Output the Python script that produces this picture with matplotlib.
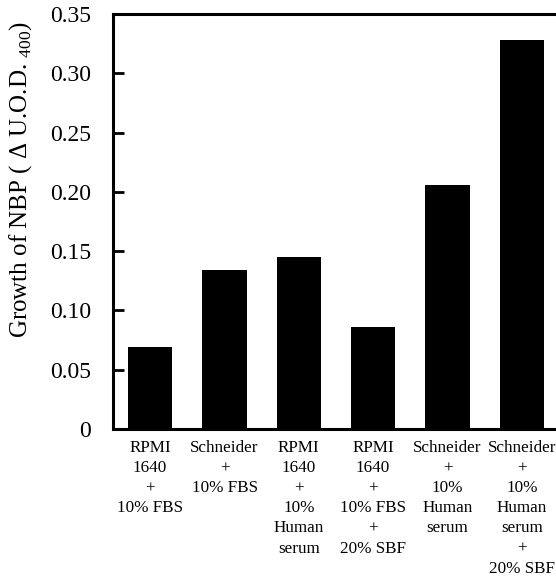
import matplotlib
matplotlib.use("Agg")
import matplotlib.pyplot as plt

plt.rcParams["font.family"] = ["Liberation Serif", "DejaVu Serif"]
plt.rcParams["mathtext.fontset"] = "custom"
plt.rcParams["mathtext.rm"] = "Liberation Serif"

media = [
    "RPMI\n1640\n+\n10% FBS",
    "Schneider\n+\n10% FBS",
    "RPMI\n1640\n+\n10%\nHuman\nserum",
    "RPMI\n1640\n+\n10% FBS\n+\n20% SBF",
    "Schneider\n+\n10%\nHuman\nserum",
    "Schneider\n+\n10%\nHuman\nserum\n+\n20% SBF",
]
growth = [0.069, 0.134, 0.145, 0.086, 0.206, 0.328]
yticks = [0, 0.05, 0.10, 0.15, 0.20, 0.25, 0.30, 0.35]
ytick_labels = ["0", "0.05", "0.10", "0.15", "0.20", "0.25", "0.30", "0.35"]

fig = plt.figure(figsize=(5.56, 5.8), dpi=100)
ax = fig.add_axes([113 / 556, 151 / 580, 446 / 556, 415 / 580])

xs = range(len(growth))
ax.bar(xs, growth, width=0.6, color="black")

ax.set_xlim(-0.5, len(growth) - 0.5)
ax.set_ylim(0, 0.35)
ax.set_yticks(yticks)
ax.set_yticklabels(ytick_labels, fontsize=17)
ax.set_xticks(list(xs))
ax.set_xticklabels(media, fontsize=12.3, linespacing=1.34, ha="center", va="top")

ax.tick_params(axis="y", direction="in", length=8, width=2, pad=16)
ax.tick_params(axis="x", length=0, pad=8)

for side in ["left", "bottom", "top"]:
    ax.spines[side].set_linewidth(2.2)
ax.spines["right"].set_visible(False)

fig.text(21 / 556, 1 - 179 / 580, "Growth of NBP ( \u0394 U.O.D. $_{\\mathrm{400}}$)",
         rotation=90, ha="center", va="center", fontsize=18)

fig.savefig("out.png", dpi=100)
